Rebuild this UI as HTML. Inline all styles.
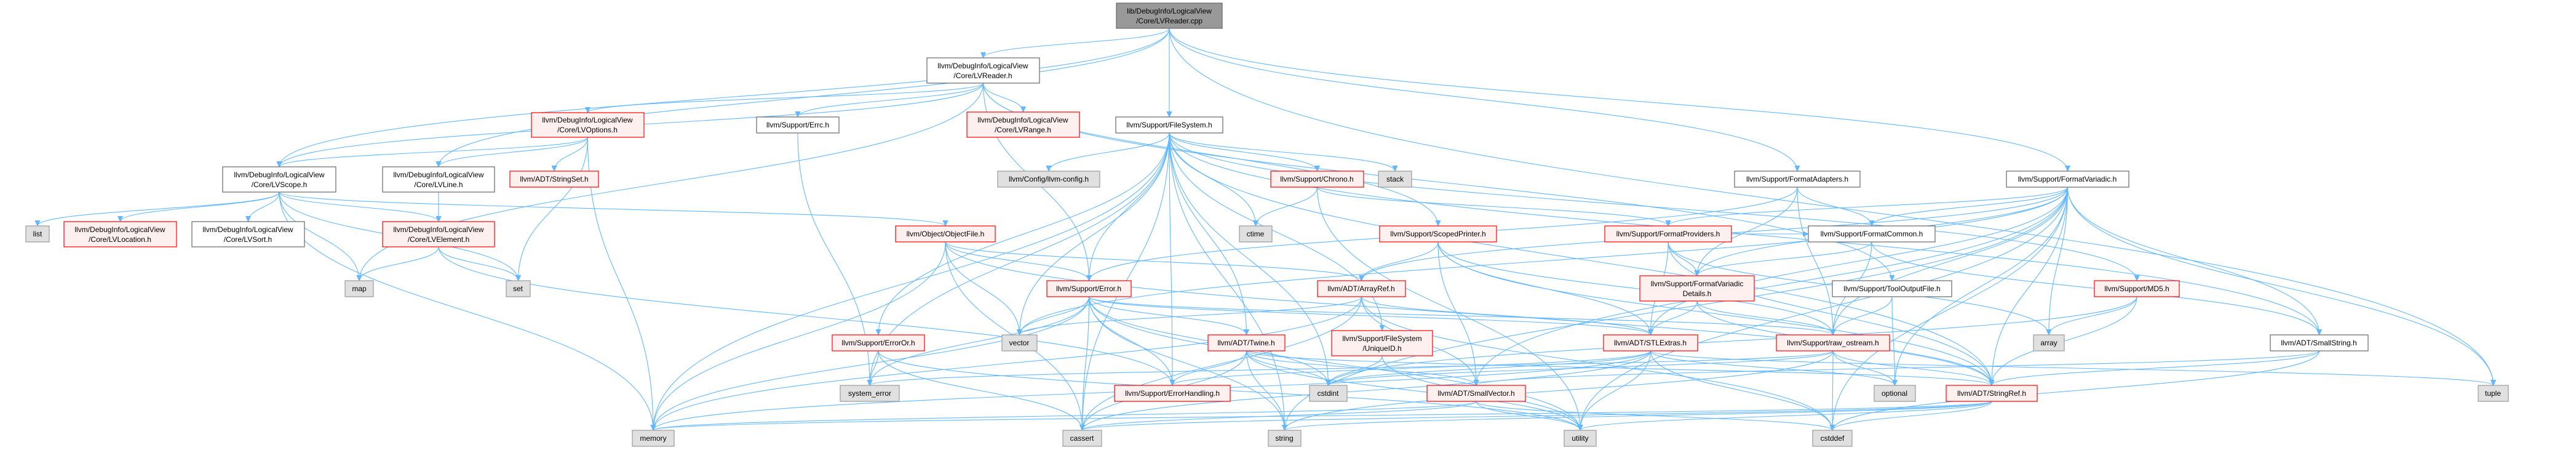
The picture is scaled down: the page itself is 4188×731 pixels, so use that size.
<!DOCTYPE html>
<html><head><meta charset="utf-8"><style>
html,body{margin:0;padding:0;background:#fff;}
svg{display:block;}
text{font-family:"Liberation Sans",sans-serif;font-size:12px;fill:#000;}
.w{fill:#fff;stroke:#666;stroke-width:1.2}
.r{fill:#fff0f0;stroke:#f00;stroke-width:1.2}
.g{fill:#e0e0e0;stroke:#999;stroke-width:1.2}
.k{fill:#999;stroke:#666;stroke-width:1.2}
.e{fill:none;stroke:#63b8ff;stroke-width:1.1}
</style></head><body>
<svg id="s" width="4188" height="731" viewBox="0 0 4188 731" xmlns="http://www.w3.org/2000/svg">
<defs><marker id="a" markerWidth="10" markerHeight="10" refX="9" refY="5" orient="auto" markerUnits="userSpaceOnUse"><path d="M0,1 L9,5 L0,9 Z" fill="#63b8ff" stroke="#63b8ff"/></marker></defs>
<g id="edges"></g>
<g id="nodes">
<rect class="k" x="1815" y="5" width="172" height="41"/><text x="1901" y="22" text-anchor="middle">lib/DebugInfo/LogicalView</text><text x="1901" y="38" text-anchor="middle">/Core/LVReader.cpp</text>
<rect class="w" x="1507" y="94" width="183" height="41"/><text x="1598" y="111" text-anchor="middle">llvm/DebugInfo/LogicalView</text><text x="1598" y="127" text-anchor="middle">/Core/LVReader.h</text>
<rect class="r" x="864" y="183" width="183" height="40"/><text x="955" y="199" text-anchor="middle">llvm/DebugInfo/LogicalView</text><text x="955" y="215" text-anchor="middle">/Core/LVOptions.h</text>
<rect class="w" x="1230" y="190" width="134" height="26"/><text x="1297" y="207" text-anchor="middle">llvm/Support/Errc.h</text>
<rect class="r" x="1572" y="182" width="183" height="41"/><text x="1663" y="199" text-anchor="middle">llvm/DebugInfo/LogicalView</text><text x="1663" y="215" text-anchor="middle">/Core/LVRange.h</text>
<rect class="w" x="1814" y="190" width="174" height="26"/><text x="1901" y="207" text-anchor="middle">llvm/Support/FileSystem.h</text>
<rect class="w" x="362" y="271" width="184" height="41"/><text x="454" y="288" text-anchor="middle">llvm/DebugInfo/LogicalView</text><text x="454" y="304" text-anchor="middle">/Core/LVScope.h</text>
<rect class="w" x="622" y="271" width="182" height="41"/><text x="713" y="288" text-anchor="middle">llvm/DebugInfo/LogicalView</text><text x="713" y="304" text-anchor="middle">/Core/LVLine.h</text>
<rect class="r" x="829" y="278" width="144" height="26"/><text x="901" y="295" text-anchor="middle">llvm/ADT/StringSet.h</text>
<rect class="g" x="1622" y="278" width="166" height="26"/><text x="1705" y="295" text-anchor="middle">llvm/Config/llvm-config.h</text>
<rect class="r" x="2066" y="278" width="151" height="26"/><text x="2141" y="295" text-anchor="middle">llvm/Support/Chrono.h</text>
<rect class="g" x="2241" y="278" width="54" height="26"/><text x="2268" y="295" text-anchor="middle">stack</text>
<rect class="w" x="2820" y="278" width="204" height="26"/><text x="2922" y="295" text-anchor="middle">llvm/Support/FormatAdapters.h</text>
<rect class="w" x="3262" y="278" width="199" height="26"/><text x="3361" y="295" text-anchor="middle">llvm/Support/FormatVariadic.h</text>
<rect class="g" x="42" y="367" width="38" height="26"/><text x="61" y="384" text-anchor="middle">list</text>
<rect class="r" x="104" y="360" width="183" height="41"/><text x="195" y="377" text-anchor="middle">llvm/DebugInfo/LogicalView</text><text x="195" y="393" text-anchor="middle">/Core/LVLocation.h</text>
<rect class="w" x="312" y="360" width="183" height="41"/><text x="403" y="377" text-anchor="middle">llvm/DebugInfo/LogicalView</text><text x="403" y="393" text-anchor="middle">/Core/LVSort.h</text>
<rect class="r" x="622" y="360" width="182" height="41"/><text x="713" y="377" text-anchor="middle">llvm/DebugInfo/LogicalView</text><text x="713" y="393" text-anchor="middle">/Core/LVElement.h</text>
<rect class="r" x="1456" y="367" width="162" height="26"/><text x="1537" y="384" text-anchor="middle">llvm/Object/ObjectFile.h</text>
<rect class="g" x="2015" y="367" width="53" height="26"/><text x="2041" y="384" text-anchor="middle">ctime</text>
<rect class="r" x="2243" y="367" width="190" height="26"/><text x="2338" y="384" text-anchor="middle">llvm/Support/ScopedPrinter.h</text>
<rect class="r" x="2609" y="367" width="206" height="26"/><text x="2712" y="384" text-anchor="middle">llvm/Support/FormatProviders.h</text>
<rect class="w" x="2940" y="367" width="206" height="26"/><text x="3043" y="384" text-anchor="middle">llvm/Support/FormatCommon.h</text>
<rect class="g" x="561" y="456" width="46" height="26"/><text x="584" y="473" text-anchor="middle">map</text>
<rect class="g" x="823" y="456" width="39" height="26"/><text x="842" y="473" text-anchor="middle">set</text>
<rect class="r" x="1702" y="456" width="137" height="26"/><text x="1770" y="473" text-anchor="middle">llvm/Support/Error.h</text>
<rect class="r" x="2142" y="456" width="143" height="26"/><text x="2213" y="473" text-anchor="middle">llvm/ADT/ArrayRef.h</text>
<rect class="r" x="2666" y="448" width="186" height="41"/><text x="2759" y="465" text-anchor="middle">llvm/Support/FormatVariadic</text><text x="2759" y="481" text-anchor="middle">Details.h</text>
<rect class="w" x="2979" y="456" width="194" height="26"/><text x="3076" y="473" text-anchor="middle">llvm/Support/ToolOutputFile.h</text>
<rect class="r" x="3405" y="456" width="138" height="26"/><text x="3474" y="473" text-anchor="middle">llvm/Support/MD5.h</text>
<rect class="r" x="1353" y="544" width="150" height="26"/><text x="1428" y="561" text-anchor="middle">llvm/Support/ErrorOr.h</text>
<rect class="g" x="1629" y="544" width="57" height="26"/><text x="1657" y="561" text-anchor="middle">vector</text>
<rect class="r" x="1964" y="544" width="125" height="26"/><text x="2026" y="561" text-anchor="middle">llvm/ADT/Twine.h</text>
<rect class="r" x="2165" y="537" width="164" height="41"/><text x="2247" y="554" text-anchor="middle">llvm/Support/FileSystem</text><text x="2247" y="570" text-anchor="middle">/UniqueID.h</text>
<rect class="r" x="2607" y="544" width="153" height="26"/><text x="2683" y="561" text-anchor="middle">llvm/ADT/STLExtras.h</text>
<rect class="r" x="2888" y="544" width="184" height="26"/><text x="2980" y="561" text-anchor="middle">llvm/Support/raw_ostream.h</text>
<rect class="g" x="3306" y="544" width="50" height="26"/><text x="3331" y="561" text-anchor="middle">array</text>
<rect class="w" x="3691" y="544" width="159" height="26"/><text x="3770" y="561" text-anchor="middle">llvm/ADT/SmallString.h</text>
<rect class="g" x="1366" y="626" width="96" height="26"/><text x="1414" y="643" text-anchor="middle">system_error</text>
<rect class="r" x="1812" y="626" width="188" height="26"/><text x="1906" y="643" text-anchor="middle">llvm/Support/ErrorHandling.h</text>
<rect class="g" x="2129" y="626" width="61" height="26"/><text x="2159" y="643" text-anchor="middle">cstdint</text>
<rect class="r" x="2320" y="626" width="160" height="26"/><text x="2400" y="643" text-anchor="middle">llvm/ADT/SmallVector.h</text>
<rect class="g" x="3047" y="626" width="67" height="26"/><text x="3080" y="643" text-anchor="middle">optional</text>
<rect class="r" x="3164" y="626" width="148" height="26"/><text x="3238" y="643" text-anchor="middle">llvm/ADT/StringRef.h</text>
<rect class="g" x="4029" y="626" width="49" height="26"/><text x="4053" y="643" text-anchor="middle">tuple</text>
<rect class="g" x="1028" y="699" width="68" height="26"/><text x="1062" y="716" text-anchor="middle">memory</text>
<rect class="g" x="1728" y="699" width="63" height="26"/><text x="1759" y="716" text-anchor="middle">cassert</text>
<rect class="g" x="2062" y="699" width="53" height="26"/><text x="2088" y="716" text-anchor="middle">string</text>
<rect class="g" x="2947" y="699" width="64" height="26"/><text x="2979" y="716" text-anchor="middle">cstddef</text>
<rect class="g" x="2543" y="699" width="52" height="26"/><text x="2569" y="716" text-anchor="middle">utility</text>
</g>
</svg>
<script>
var N={cpp:[1815,5,172,41],LVReader:[1507,94,183,41],LVOptions:[864,183,183,40],Errc:[1230,190,134,26],LVRange:[1572,182,183,41],FileSystem:[1814,190,174,26],LVScope:[362,271,184,41],LVLine:[622,271,182,41],StringSet:[829,278,144,26],llvmconfig:[1622,278,166,26],Chrono:[2066,278,151,26],stack:[2241,278,54,26],FormatAdapters:[2820,278,204,26],FormatVariadic:[3262,278,199,26],list:[42,367,38,26],LVLocation:[104,360,183,41],LVSort:[312,360,183,41],LVElement:[622,360,182,41],ObjectFile:[1456,367,162,26],ctime:[2015,367,53,26],ScopedPrinter:[2243,367,190,26],FormatProviders:[2609,367,206,26],FormatCommon:[2940,367,206,26],map:[561,456,46,26],set:[823,456,39,26],Error:[1702,456,137,26],ArrayRef:[2142,456,143,26],FVDetails:[2666,448,186,41],ToolOutputFile:[2979,456,194,26],MD5:[3405,456,138,26],ErrorOr:[1353,544,150,26],vector:[1629,544,57,26],Twine:[1964,544,125,26],UniqueID:[2165,537,164,41],STLExtras:[2607,544,153,26],raw_ostream:[2888,544,184,26],array:[3306,544,50,26],SmallString:[3691,544,159,26],system_error:[1366,626,96,26],ErrorHandling:[1812,626,188,26],cstdint:[2129,626,61,26],SmallVector:[2320,626,160,26],optional:[3047,626,67,26],StringRef:[3164,626,148,26],tuple:[4029,626,49,26],memory:[1028,699,68,26],cassert:[1728,699,63,26],string:[2062,699,53,26],cstddef:[2947,699,64,26],utility:[2543,699,52,26]};
var E={cpp:"LVReader FileSystem LVScope LVLine FormatAdapters FormatVariadic tuple",
LVReader:"LVOptions LVRange Errc ScopedPrinter ToolOutputFile map Error LVScope",
LVOptions:"LVScope LVLine StringSet set memory",
LVScope:"list LVLocation LVSort LVElement map set ObjectFile memory",
LVLine:"LVElement",
LVElement:"map set ErrorHandling",
Errc:"system_error",
FileSystem:"llvmconfig Chrono stack ctime Error ErrorOr Twine SmallString StringRef ErrorHandling UniqueID MD5 cassert cstdint memory string system_error vector",
Chrono:"ctime FormatProviders utility",
ObjectFile:"Error ArrayRef vector memory cassert StringRef",
ScopedPrinter:"ArrayRef SmallVector StringRef raw_ostream STLExtras",
FormatProviders:"FVDetails STLExtras StringRef FormatCommon array",
FormatCommon:"FVDetails raw_ostream SmallString",
FormatAdapters:"FormatCommon FVDetails raw_ostream Error",
FormatVariadic:"FormatCommon FormatProviders FVDetails raw_ostream ArrayRef STLExtras SmallString StringRef array cstddef optional string tuple utility vector SmallVector",
FVDetails:"raw_ostream STLExtras StringRef",
ToolOutputFile:"raw_ostream optional",
MD5:"array StringRef cstdint",
Error:"ErrorHandling Twine vector system_error cassert cstdint memory string utility raw_ostream STLExtras",
ArrayRef:"SmallVector STLExtras vector cstddef memory cassert",
ErrorOr:"system_error cassert utility",
Twine:"ErrorHandling SmallVector StringRef cassert cstdint string utility",
UniqueID:"cstdint utility",
STLExtras:"cstddef cstdint utility tuple memory cassert optional ErrorHandling",
raw_ostream:"StringRef optional cstddef cstdint string system_error",
SmallString:"SmallVector StringRef cstddef",
SmallVector:"cassert cstddef memory utility",
StringRef:"cassert cstddef string utility memory"};
var g=document.getElementById('edges'),h='';
for(var s in E){E[s].split(' ').forEach(function(t){var a=N[s],b=N[t];
var x1=a[0]+a[2]/2,y1=a[1]+a[3],x2=b[0]+b[2]/2,y2=b[1];
if(b[1]<=a[1]+a[3]){y1=a[1]+a[3]/2;x1=x2>x1?a[0]+a[2]:a[0];y2=b[1]+b[3]/2;x2=x2>x1?b[0]:b[0]+b[2];
h+='<path class="e" marker-end="url(#a)" d="M'+x1+','+y1+' C'+((x1+x2)/2)+','+y1+' '+((x1+x2)/2)+','+y2+' '+x2+','+y2+'"/>';return;}
var d=(y2-y1)*0.5;
h+='<path class="e" marker-end="url(#a)" d="M'+x1+','+y1+' C'+x1+','+(y1+d)+' '+x2+','+(y2-d)+' '+x2+','+y2+'"/>';});}
g.innerHTML=h;
</script>
</body></html>
